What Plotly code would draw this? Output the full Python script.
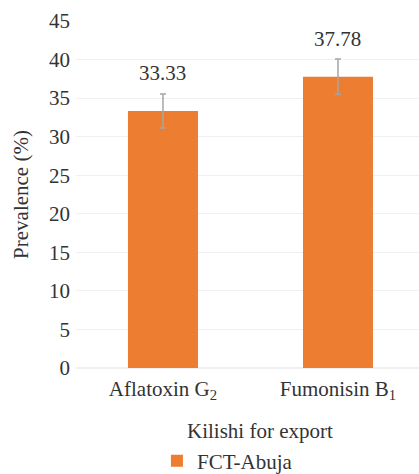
import plotly.graph_objects as go

categories = ["Aflatoxin G<sub>2</sub>", "Fumonisin B<sub>1</sub>"]
values = [33.33, 37.78]
errors = [2.2, 2.3]
labels = ["33.33", "37.78"]
series_name = "FCT-Abuja"
x_title = "Kilishi for export"
y_title = "Prevalence (%)"

font_family = "Liberation Serif"
text_color = "#333333"
fs = 21

fig = go.Figure()
fig.add_trace(go.Bar(
    x=categories, y=values, name=series_name,
    marker=dict(color="#ED7D31", line=dict(width=0)),
    width=0.4,
    error_y=dict(type="data", array=errors, visible=True, color="#A5A5A5", thickness=1.5, width=3),
    showlegend=True,
))
for c, v, t in zip(categories, values, labels):
    fig.add_annotation(x=c, y=v, text=t, showarrow=False, yanchor="bottom", yshift=24,
                       font=dict(family=font_family, size=fs, color=text_color))

fig.add_annotation(x=0.536, y=-0.1816, xref="paper", yref="paper", text=x_title, showarrow=False,
                   xanchor="center", yanchor="middle",
                   font=dict(family=font_family, size=fs, color=text_color))

fig.update_layout(
    width=419, height=474,
    margin=dict(l=76, r=0, t=21, b=106, autoexpand=False),
    paper_bgcolor="white", plot_bgcolor="white",
    font=dict(family=font_family, size=fs, color=text_color),
    bargap=0.6,
    xaxis=dict(range=[-0.497, 1.463], showline=False, ticks="", automargin=False,
               ticklabelstandoff=6, tickfont=dict(family=font_family, size=fs, color=text_color)),
    yaxis=dict(range=[0, 45], dtick=5, showgrid=True, gridcolor="#F0F0F0", gridwidth=1,
               zeroline=True, zerolinecolor="#F0F0F0", showline=False, ticks="", automargin=False,
               ticklabelstandoff=5, tickfont=dict(family=font_family, size=fs, color=text_color),
               title=dict(text=y_title, font=dict(family=font_family, size=fs, color=text_color), standoff=14)),
    legend=dict(orientation="h", x=0.236, xanchor="left", y=-0.268, yanchor="middle",
                font=dict(family=font_family, size=fs, color=text_color)),
)

fig.write_html("out.html", config={"displayModeBar": False},
               post_script="document.body.style.margin='0px';")
